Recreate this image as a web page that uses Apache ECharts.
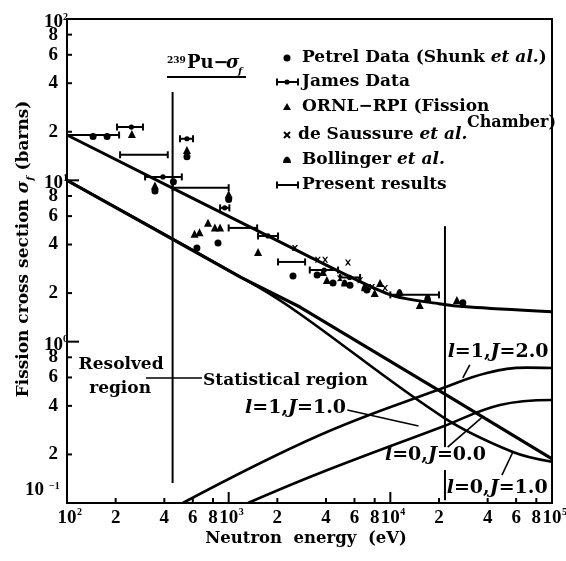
<!DOCTYPE html>
<html>
<head>
<meta charset="utf-8">
<script src="https://cdn.jsdelivr.net/npm/echarts@6/dist/echarts.min.js"></script>
<style>
html,body{margin:0;padding:0;background:#fff}
#c{width:566px;height:561px}
</style>
</head>
<body>
<div id="c"></div>
<script>
// ---- axis ticks (log-log, decades with 2/4/6/8 subdivisions) ----
const xTicks = [100,200,400,600,800,1000,2000,4000,6000,8000,10000,20000,40000,60000,80000,100000];
const xTickText = ['10','2','4','6','8','10','2','4','6','8','10','2','4','6','8','10'];
const xTickSup = ['2','','','','','3','','','','','4','','','','','5'];
const yTicks = [0.1,0.2,0.4,0.6,0.8,1,2,4,6,8,10,20,40,60,80,100];
const yTickText = ['10','2','4','6','8','10','2','4','6','8','10','2','4','6','8','10'];
const yTickSup = ['\u22121','','','','','0','','','','','1','','','','','2'];

// ---- measured cross sections (eV, barns) ----
const petrelE = [145,177,350,455,552,636,859,1000,2500,3525,4420,5630,7160,28080];
const petrelS = [18.7,18.7,8.6,9.8,14.0,3.81,4.09,7.6,2.55,2.59,2.31,2.24,2.09,1.74];

const jamesE0 = [204,304,500,885,1520,3175,4880];
const jamesE1 = [295,513,602,1010,2020,4750,6500];
const jamesEc = [250,392,552,945,1750,3900,5600];
const jamesS  = [21.4,10.5,18.1,6.75,4.52,2.78,2.5];

const ornlE = [252,350,552,615,660,745,822,885,1000,1520,3830,4050,8640,8000,15200,25800];
const ornlS = [19.4,9.3,15.4,4.66,4.77,5.45,5.1,5.1,8.2,3.6,2.70,2.41,2.31,2.00,1.69,1.81];

const saussureE = [2570,3560,3950,5470,4880,6500,7700,9270];
const saussureS = [3.81,3.22,3.22,3.09,2.47,2.40,2.18,2.15];

const bollingerE = [5220,6950,11400,17000];
const bollingerS = [2.31,2.16,2.02,1.87];

// present results: energy intervals and averaged cross section
const presentE0 = [100,213,450,1000,2020,10000];
const presentE1 = [210,420,1000,1500,2970,20000];
const presentS  = [19.1,14.4,9.0,5.07,3.12,1.95];

// ---- evaluated / calculated curves ----
const totalE = [100,3000,10000,20000,31000,100000];
const totalS = [19.1,3.45,1.95,1.72,1.64,1.53];

const s0J0E = [100,1175,2761,21150,100000];
const s0J0S = [10.0,2.52,1.64,0.481,0.1876];

const s0J1E = [100,1500,2761,21150,57300,100000];
const s0J1S = [10.0,2.2,1.485,0.341,0.207,0.18];

const p1J2E = [520,3670,21150,39550,70000,100000];
const p1J2S = [0.1,0.264,0.516,0.64,0.69,0.687];

const p1J1E = [1316,3670,21150,47600,100000];
const p1J1S = [0.1,0.1535,0.298,0.405,0.435];

// region boundaries
const resolvedLimitE = 450;
const resolvedLimitS = [0.133,35.3];
const statLimitE = 21770;
const statLimitS = [[5.2,0.222],[0.16,0.104]];
const regionArrowE = [308,684];
const regionArrowS = 0.596;

// curve labels and leaders: [E, sigma]
const curveLabels = [
  {text:'Resolved', at:[216,0.717], align:'center'},
  {text:'region', at:[213,0.509], align:'center'},
  {text:'Statistical region', at:[694,0.571], align:'left'},
  {text:'l=1,J=1.0', at:[1264,0.388], align:'left', math:true},
  {text:'l=1,J=2.0', at:[22620,0.863], align:'left', math:true},
  {text:'l=0,J=0.0', at:[9260,0.198], align:'left', math:true},
  {text:'l=0,J=1.0', at:[22310,0.124], align:'left', math:true}
];
const leaders = [
  [[5420,0.377],[14940,0.300]],
  [[31000,0.717],[28080,0.596]],
  [[22620,0.222],[36600,0.337]],
  [[49000,0.149],[57300,0.207]]
];

const TXT = '"DejaVu Serif", serif';
const NUM = '"Liberation Serif", serif';

function zip(a,b){ return a.map((v,i)=>[v,b[i]]); }

function txt(x,y,text,font,align,valign){
  return {type:'text', x:x, y:y, style:{text:text, font:font, fill:'#000',
    align:align, verticalAlign:valign, textAlign:align, textVerticalAlign:valign}};
}

const chart = echarts.init(document.getElementById('c'), null, {renderer:'canvas', width:566, height:561});

const blank = {axisLine:{show:false}, axisTick:{show:false}, axisLabel:{show:false}, splitLine:{show:false}, minorTick:{show:false}};

function errBarSeries(name, e0, e1, s, ec){
  return {
    name:name, type:'custom', z:6, clip:false,
    data: s.map((v,i)=>[e0[i], e1[i], v, ec ? ec[i] : 0]),
    encode:{x:[0,1], y:2},
    renderItem:function(params, api){
      const a = api.coord([api.value(0), api.value(2)]);
      const b = api.coord([api.value(1), api.value(2)]);
      const ch = [
        {type:'line', shape:{x1:a[0],y1:a[1],x2:b[0],y2:b[1]}, style:{stroke:'#000', lineWidth:2}},
        {type:'line', shape:{x1:a[0],y1:a[1]-3.5,x2:a[0],y2:a[1]+3.5}, style:{stroke:'#000', lineWidth:2}},
        {type:'line', shape:{x1:b[0],y1:b[1]-3.5,x2:b[0],y2:b[1]+3.5}, style:{stroke:'#000', lineWidth:2}}
      ];
      if (api.value(3) > 0) {
        const c = api.coord([api.value(3), api.value(2)]);
        ch.push({type:'circle', shape:{cx:c[0], cy:c[1], r:2.6}, style:{fill:'#000'}});
      }
      return {type:'group', children:ch};
    }
  };
}

function lineSeries(e, s, w, smooth){
  return {type:'line', data:zip(e,s), symbol:'none', smooth:smooth, z:3,
    lineStyle:{color:'#000', width:w}};
}

function scatterSeries(name, e, s, symbol, size){
  return {name:name, type:'scatter', data:zip(e,s), symbol:symbol, symbolSize:size, z:5,
    itemStyle:{color:'#000', opacity:1}};
}

const crossPath = 'path://M0,0L2.5,0L5,3.2L7.5,0L10,0L6.4,5L10,10L7.5,10L5,6.8L2.5,10L0,10L3.6,5Z';
const domePath = 'path://M0,10C0,4 3,0 5,0C7,0 10,4 10,10Z';

const series = [
  lineSeries(totalE, totalS, 3, 0.25),
  lineSeries(s0J0E, s0J0S, 3.2, false),
  lineSeries(s0J1E, s0J1S, 2.6, 0.35),
  lineSeries(p1J2E, p1J2S, 2.6, 0.4),
  lineSeries(p1J1E, p1J1S, 2.6, 0.4),
  // region boundaries
  {type:'line', data:[[resolvedLimitE,resolvedLimitS[0]],[resolvedLimitE,resolvedLimitS[1]]], symbol:'none', z:3, lineStyle:{color:'#000', width:2}},
  {type:'line', data:[[statLimitE,statLimitS[0][0]],[statLimitE,statLimitS[0][1]]], symbol:'none', z:3, lineStyle:{color:'#000', width:2}},
  {type:'line', data:[[statLimitE,statLimitS[1][0]],[statLimitE,statLimitS[1][1]]], symbol:'none', z:3, lineStyle:{color:'#000', width:2}},
  {type:'line', data:[[regionArrowE[0],regionArrowS],[regionArrowE[1],regionArrowS]], symbol:'none', z:3, lineStyle:{color:'#000', width:1.6}},
  // label leaders
  ...leaders.map(l => ({type:'line', data:l, symbol:'none', z:3, lineStyle:{color:'#000', width:1.6}})),
  // measurements
  scatterSeries('Petrel', petrelE, petrelS, 'circle', 7),
  scatterSeries('ORNL-RPI', ornlE, ornlS, 'triangle', 8),
  scatterSeries('de Saussure', saussureE, saussureS, crossPath, 6),
  scatterSeries('Bollinger', bollingerE, bollingerS, domePath, 7),
  errBarSeries('James', jamesE0, jamesE1, jamesS, jamesEc),
  errBarSeries('Present', presentE0, presentE1, presentS, null),
  // curve labels
  {type:'custom', z:7, clip:false, data: curveLabels.map((c,i)=>[c.at[0], c.at[1], i]),
    renderItem:function(params, api){
      const c = curveLabels[api.value(2)];
      const p = api.coord([api.value(0), api.value(1)]);
      const font = c.math ? 'bold 19px ' + TXT : 'bold 17px ' + TXT;
      if (!c.math) return txt(p[0], p[1], c.text, font, c.align, 'middle');
      // italic quantum-number symbols
      const m = /^l=(\d),J=(.*)$/.exec(c.text);
      return {type:'text', x:p[0], y:p[1], style:{
        text:'{i|l}=' + m[1] + ',{i|J}=' + m[2], font:font, fill:'#000',
        align:'left', verticalAlign:'middle', textAlign:'left', textVerticalAlign:'middle',
        rich:{i:{fontStyle:'italic', fontWeight:'bold', fontSize:19, fontFamily:TXT}}}};
    }},
  // x ticks and labels
  {type:'custom', z:8, clip:false, data: xTicks.map((v,i)=>[v, 0.1, i]),
    renderItem:function(params, api){
      const i = api.value(2);
      const p = api.coord([api.value(0), 0.1]);
      const major = xTickSup[i] !== '';
      const ch = [{type:'line', shape:{x1:p[0], y1:p[1], x2:p[0], y2:p[1] - (major ? 11 : 5)}, style:{stroke:'#000', lineWidth:2}}];
      ch.push(txt(p[0], p[1] + 15, xTickText[i], 'bold 19px ' + NUM, 'center', 'middle'));
      if (major) ch.push(txt(p[0] + 10, p[1] + 9, xTickSup[i], 'bold 10px ' + NUM, 'left', 'middle'));
      return {type:'group', children:ch};
    }},
  // y ticks and labels
  {type:'custom', z:8, clip:false, data: yTicks.map((v,i)=>[100, v, i]),
    renderItem:function(params, api){
      const i = api.value(2);
      const p = api.coord([100, api.value(1)]);
      const major = yTickSup[i] !== '';
      const ch = [{type:'line', shape:{x1:p[0], y1:p[1], x2:p[0] + (major ? 12 : 5), y2:p[1]}, style:{stroke:'#000', lineWidth:2}}];
      if (!major) {
        ch.push(txt(p[0] - 9, p[1], yTickText[i], 'bold 19px ' + NUM, 'right', 'middle'));
      } else if (i === 0) {
        ch.push(txt(p[0] - 23, p[1] - 13, yTickText[i], 'bold 19px ' + NUM, 'right', 'middle'));
        ch.push(txt(p[0] - 18, p[1] - 17, yTickSup[i], 'bold 10px ' + NUM, 'left', 'middle'));
      } else {
        ch.push(txt(p[0] - 4, p[1] + 3, yTickText[i], 'bold 19px ' + NUM, 'right', 'middle'));
        ch.push(txt(p[0] - 4, p[1] - 2, yTickSup[i], 'bold 10px ' + NUM, 'left', 'middle'));
      }
      return {type:'group', children:ch};
    }}
];

// legend rows
const legendX = 287, legendTextX = 302;
const legendRows = [58, 82, 107, 135, 160, 185];
function capBar(y, dot){
  const ch = [
    {type:'line', shape:{x1:277,y1:y,x2:298,y2:y}, style:{stroke:'#000',lineWidth:2}},
    {type:'line', shape:{x1:277,y1:y-3.5,x2:277,y2:y+3.5}, style:{stroke:'#000',lineWidth:2}},
    {type:'line', shape:{x1:298,y1:y-3.5,x2:298,y2:y+3.5}, style:{stroke:'#000',lineWidth:2}}
  ];
  if (dot) ch.push({type:'circle', shape:{cx:legendX, cy:y, r:2.6}, style:{fill:'#000'}});
  return {type:'group', children:ch};
}
const yb = legendRows[4];
const legendMarkers = [
  {type:'circle', shape:{cx:legendX, cy:legendRows[0], r:3.5}, style:{fill:'#000'}},
  capBar(legendRows[1], true),
  {type:'polygon', shape:{points:[[legendX-4,legendRows[2]+3],[legendX+4,legendRows[2]+3],[legendX,legendRows[2]-4]]}, style:{fill:'#000'}},
  {type:'group', children:[
    {type:'line', shape:{x1:legendX-3,y1:legendRows[3]-3,x2:legendX+3,y2:legendRows[3]+3}, style:{stroke:'#000',lineWidth:2}},
    {type:'line', shape:{x1:legendX-3,y1:legendRows[3]+3,x2:legendX+3,y2:legendRows[3]-3}, style:{stroke:'#000',lineWidth:2}}
  ]},
  {type:'polygon', shape:{points:[[legendX-4,yb+3],[legendX-3.5,yb],[legendX-2,yb-2.5],[legendX,yb-3.5],[legendX+2,yb-2.5],[legendX+3.5,yb],[legendX+4,yb+3]]}, style:{fill:'#000'}},
  capBar(legendRows[5], false)
];
const richItalic = {i:{fontStyle:'italic', fontWeight:'bold', fontSize:17, fontFamily:TXT}};
function legendText(x, y, text, size){
  const fs = size || 17;
  return {type:'text', x:x, y:y, style:{text:text, font:'bold ' + fs + 'px ' + TXT, fill:'#000',
    align:'left', verticalAlign:'middle', textAlign:'left', textVerticalAlign:'middle', rich:richItalic}};
}
const legendTexts = [
  legendText(legendTextX, legendRows[0], 'Petrel Data (Shunk {i|et al.})'),
  legendText(legendTextX, legendRows[1], 'James Data'),
  legendText(legendTextX, legendRows[2], 'ORNL\u2212RPI (Fission'),
  legendText(legendTextX - 4, legendRows[3], 'de Saussure {i|et al.}'),
  legendText(467, legendRows[3] - 12, 'Chamber)', 16),
  legendText(legendTextX, legendRows[4], 'Bollinger {i|et al.}'),
  legendText(legendTextX, legendRows[5], 'Present results')
];

const graphics = [
  ...legendMarkers,
  ...legendTexts,
  // plot title: 239Pu - sigma_f
  txt(167, 61, '239', 'bold 9px ' + TXT, 'left', 'middle'),
  txt(187, 63, 'Pu\u2212', 'bold 18px ' + TXT, 'left', 'middle'),
  {type:'text', x:226, y:63, style:{text:'\u03c3', font:'italic bold 18px ' + TXT, fill:'#000', align:'left', verticalAlign:'middle', textAlign:'left', textVerticalAlign:'middle'}},
  txt(238, 71, 'f', 'italic bold 10px ' + TXT, 'left', 'middle'),
  {type:'line', shape:{x1:167, y1:77, x2:246, y2:77}, style:{stroke:'#000', lineWidth:2}},
  // axis titles
  txt(306, 539, 'Neutron  energy  (eV)', 'bold 16.5px ' + TXT, 'center', 'middle'),
  {type:'text', x:24, y:249, rotation:Math.PI/2, style:{
    text:'Fission cross section {s|\u03c3}{f|f} (barns)', font:'bold 17px ' + TXT, fill:'#000',
    align:'center', verticalAlign:'middle', textAlign:'center', textVerticalAlign:'middle',
    rich:{s:{fontStyle:'italic', fontWeight:'bold', fontSize:17, fontFamily:TXT},
          f:{fontStyle:'italic', fontWeight:'bold', fontSize:10, fontFamily:TXT, verticalAlign:'bottom', lineHeight:22}}}}
];

chart.setOption({
  animation:false,
  backgroundColor:'#fff',
  grid:{left:67, right:14, top:19, bottom:58, show:true, borderColor:'#000', borderWidth:2, backgroundColor:'transparent'},
  xAxis:Object.assign({type:'log', logBase:10, min:100, max:100000}, blank),
  yAxis:Object.assign({type:'log', logBase:10, min:0.1, max:100}, blank),
  series:series,
  graphic:graphics
});
</script>
</body>
</html>
